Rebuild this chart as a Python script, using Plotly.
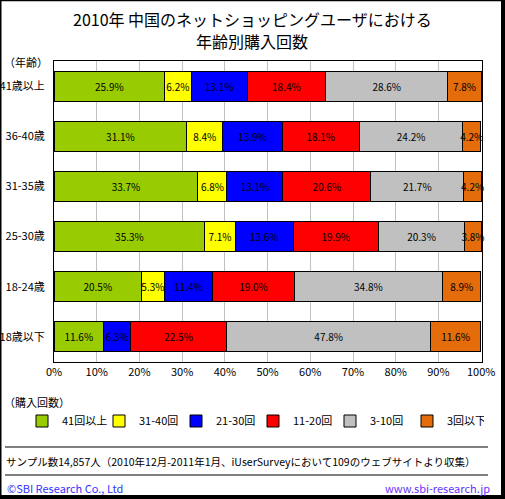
import plotly.graph_objects as go

categories = ["41歳以上", "36-40歳", "31-35歳", "25-30歳", "18-24歳", "18歳以下"]
series_names = ["41回以上", "31-40回", "21-30回", "11-20回", "3-10回", "3回以下"]
v_41plus = [25.9, 31.1, 33.7, 35.3, 20.5, 11.6]
v_31_40 = [6.2, 8.4, 6.8, 7.1, 5.3, None]
v_21_30 = [13.1, 13.9, 13.1, 13.6, 11.4, 6.3]
v_11_20 = [18.4, 18.1, 20.6, 19.9, 19.0, 22.5]
v_3_10 = [28.6, 24.2, 21.7, 20.3, 34.8, 47.8]
v_3less = [7.8, 4.2, 4.2, 3.8, 8.9, 11.6]
series_values = [v_41plus, v_31_40, v_21_30, v_11_20, v_3_10, v_3less]
colors = ["#99CC00", "#FFFF00", "#0000FF", "#FF0000", "#C0C0C0", "#E46C0A"]
x_ticks = [0, 10, 20, 30, 40, 50, 60, 70, 80, 90, 100]
x_tick_labels = ["0%", "10%", "20%", "30%", "40%", "50%", "60%", "70%", "80%", "90%", "100%"]

FONT = "Noto Sans CJK JP"
W, H = 505, 499
L, R, T, B = 54, 482, 61, 362

def px(X):
    return (X - L) / (R - L)

def py(Y):
    return (B - Y) / (B - T)

fig = go.Figure()
for name, vals, col in zip(series_names, series_values, colors):
    fig.add_trace(go.Bar(
        y=categories, x=vals, name=name, orientation="h",
        marker=dict(color=col, line=dict(color="black", width=1)),
        texttemplate="%{x:.1f}%", textposition="inside", textangle=0,
        insidetextanchor="middle", constraintext="none",
        textfont=dict(color="black", size=10, family=FONT),
        cliponaxis=False,
    ))

shapes = [
    dict(type="rect", xref="paper", yref="paper", x0=px(0), x1=px(1.5), y0=py(0), y1=py(H), fillcolor="black", line_width=0, layer="above"),
    dict(type="rect", xref="paper", yref="paper", x0=px(0), x1=px(W), y0=py(0), y1=py(1.2), fillcolor="black", line_width=0, layer="above"),
    dict(type="rect", xref="paper", yref="paper", x0=px(501), x1=px(W), y0=py(0), y1=py(H), fillcolor="black", line_width=0, layer="above"),
    dict(type="rect", xref="paper", yref="paper", x0=px(0), x1=px(W), y0=py(495), y1=py(H), fillcolor="black", line_width=0, layer="above"),
    dict(type="line", xref="paper", yref="paper", x0=px(5), x1=px(488), y0=py(447), y1=py(447), line=dict(color="black", width=1)),
    dict(type="line", xref="paper", yref="paper", x0=px(5), x1=px(488), y0=py(475), y1=py(475), line=dict(color="black", width=1)),
]

annotations = [
    dict(text="2010年 中国のネットショッピングユーザにおける", xref="paper", yref="paper",
         x=px(252), y=py(19), xanchor="center", yanchor="middle", showarrow=False,
         font=dict(size=16, color="black", family=FONT)),
    dict(text="年齢別購入回数", xref="paper", yref="paper",
         x=px(252), y=py(41), xanchor="center", yanchor="middle", showarrow=False,
         font=dict(size=16, color="black", family=FONT)),
    dict(text="（年齢）", xref="paper", yref="paper", x=px(2), y=py(62), xanchor="left", yanchor="middle",
         showarrow=False, font=dict(size=11, color="black", family=FONT)),
    dict(text="（購入回数）", xref="paper", yref="paper", x=px(2), y=py(402), xanchor="left", yanchor="middle",
         showarrow=False, font=dict(size=11, color="black", family=FONT)),
    dict(text="サンプル数14,857人（2010年12月-2011年1月、iUserSurveyにおいて109のウェブサイトより収集）",
         xref="paper", yref="paper", x=px(4), y=py(461), xanchor="left", yanchor="middle",
         showarrow=False, font=dict(size=10.5, color="black", family=FONT)),
    dict(text="©SBI Research Co., Ltd", xref="paper", yref="paper", x=px(5), y=py(488), xanchor="left", yanchor="middle",
         showarrow=False, font=dict(size=11, color="#3333FF", family=FONT)),
    dict(text="www.sbi-research.jp", xref="paper", yref="paper", x=px(492), y=py(488), xanchor="right", yanchor="middle",
         showarrow=False, font=dict(size=11, color="#6633FF", family=FONT)),
]

fig.update_layout(
    template="none",
    width=W, height=H,
    margin=dict(l=L, r=W - R, t=T, b=H - B, pad=0, autoexpand=False),
    barmode="stack", bargap=0.4,
    paper_bgcolor="white", plot_bgcolor="white",
    font=dict(family=FONT, color="black", size=11),
    uniformtext=dict(minsize=10, mode="show"),
    showlegend=True,
    legend=dict(orientation="h", xref="paper", yref="paper", x=px(22), y=py(421),
                xanchor="left", yanchor="middle",
                traceorder="normal", entrywidth=32, entrywidthmode="pixels",
                font=dict(size=11, family=FONT, color="black"), bgcolor="rgba(0,0,0,0)",
                itemclick=False, itemdoubleclick=False),
    xaxis=dict(range=[0, 100.2], tickvals=x_ticks, ticktext=x_tick_labels, showgrid=True, gridcolor="#C0C0C0",
               gridwidth=1, zeroline=False, showline=True, linecolor="black", linewidth=1, mirror=True,
               ticks="", tickfont=dict(size=11, family=FONT), automargin=False, fixedrange=True),
    yaxis=dict(categoryorder="array", categoryarray=categories[::-1], showgrid=False, showline=True,
               linecolor="black", linewidth=1, mirror=True, ticks="", ticklabelstandoff=6,
               tickfont=dict(size=11, family=FONT), automargin=False, fixedrange=True),
    shapes=shapes, annotations=annotations,
)

fig.write_html("out.html", config={"displayModeBar": False},
               post_script="document.body.style.margin='0';document.body.style.overflow='hidden';")
